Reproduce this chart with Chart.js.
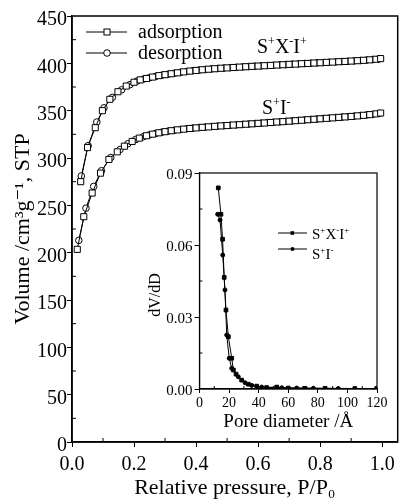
<!DOCTYPE html>
<html>
<head>
<meta charset="utf-8">
<script src="https://cdn.jsdelivr.net/npm/chart.js@4.4.0/dist/chart.umd.min.js"></script>
<style>
  html, body { margin:0; padding:0; background:#fff; }
  #wrap { position:relative; width:403px; height:504px; }
  #main { position:absolute; left:0; top:0; }
  #inset { position:absolute; left:140px; top:160px; }
</style>
</head>
<body>
<div id="wrap">
  <canvas id="main" width="403" height="504"></canvas>
  <canvas id="inset" width="255" height="280"></canvas>
</div>
<script>
// ---- isotherms, S+X-I+ (upper pair) ----
const pAdsA = [0.028, 0.05, 0.075, 0.098, 0.122, 0.148, 0.175, 0.2,
  0.22, 0.24, 0.26, 0.28, 0.30, 0.32, 0.34, 0.36, 0.38, 0.40, 0.42, 0.44, 0.46, 0.48, 0.50,
  0.52, 0.54, 0.56, 0.58, 0.60, 0.62, 0.64, 0.66, 0.68, 0.70, 0.72, 0.74, 0.76, 0.78, 0.80,
  0.82, 0.84, 0.86, 0.88, 0.90, 0.92, 0.94, 0.96, 0.98, 0.995];
const vAdsA = [275, 311, 332, 350, 362, 370, 376, 380,
  382.5, 384, 385.5, 387, 388, 389, 390, 391, 391.8, 392.5, 393.2, 393.8, 394.3, 394.8, 395.2,
  395.6, 396, 396.4, 396.8, 397.1, 397.5, 397.8, 398.2, 398.5, 398.9, 399.2, 399.6, 399.9, 400.3, 400.6,
  401, 401.3, 401.7, 402, 402.4, 402.8, 403.2, 403.7, 404.3, 405];
const pDesA = [0.03, 0.052, 0.08, 0.103, 0.13, 0.16, 0.187, 0.21,
  0.23, 0.25, 0.27, 0.29, 0.31, 0.33, 0.35, 0.37, 0.39, 0.41, 0.43, 0.45, 0.47, 0.49, 0.51,
  0.53, 0.55, 0.57, 0.59, 0.61, 0.63, 0.65, 0.67, 0.69, 0.71, 0.73, 0.75, 0.77, 0.79, 0.81,
  0.83, 0.85, 0.87, 0.89, 0.91, 0.93, 0.95, 0.97, 0.99];
const vDesA = [281, 313, 338, 353, 364, 372, 377.5, 381.3,
  383.3, 384.8, 386.2, 387.5, 388.5, 389.5, 390.5, 391.4, 392.2, 392.9, 393.5, 394.1, 394.6, 395, 395.4,
  395.8, 396.2, 396.6, 397, 397.3, 397.7, 398, 398.4, 398.7, 399.1, 399.4, 399.8, 400.1, 400.5, 400.8,
  401.2, 401.5, 401.9, 402.2, 402.6, 403, 403.5, 404, 404.7];

// ---- isotherms, S+I- (lower pair) ----
const pAdsB = [0.017, 0.038, 0.065, 0.092, 0.119, 0.146, 0.169, 0.194, 0.217,
  0.24, 0.26, 0.28, 0.30, 0.32, 0.34, 0.36, 0.38, 0.40, 0.42, 0.44, 0.46, 0.48, 0.50,
  0.52, 0.54, 0.56, 0.58, 0.60, 0.62, 0.64, 0.66, 0.68, 0.70, 0.72, 0.74, 0.76, 0.78, 0.80,
  0.82, 0.84, 0.86, 0.88, 0.90, 0.92, 0.94, 0.96, 0.98, 0.995];
const vAdsB = [203.5, 238, 263, 284, 298.5, 306.5, 312.5, 317.5, 321,
  323.5, 325.2, 326.6, 327.8, 328.8, 329.7, 330.5, 331.2, 331.8, 332.4, 332.9, 333.4, 333.9, 334.3,
  334.8, 335.2, 335.7, 336.1, 336.6, 337, 337.5, 338, 338.4, 338.9, 339.4, 339.9, 340.4, 340.9, 341.4,
  341.9, 342.4, 342.9, 343.4, 343.9, 344.5, 345.1, 345.8, 346.6, 347.5];
const pDesB = [0.022, 0.045, 0.07, 0.095, 0.125, 0.155, 0.18, 0.205, 0.23,
  0.25, 0.27, 0.29, 0.31, 0.33, 0.35, 0.37, 0.39, 0.41, 0.43, 0.45, 0.47, 0.49, 0.51,
  0.53, 0.55, 0.57, 0.59, 0.61, 0.63, 0.65, 0.67, 0.69, 0.71, 0.73, 0.75, 0.77, 0.79, 0.81,
  0.83, 0.85, 0.87, 0.89, 0.91, 0.93, 0.95, 0.97, 0.99];
const vDesB = [213, 247, 270, 286.5, 300.5, 309, 315, 319.5, 322.5,
  324.5, 326, 327.3, 328.4, 329.3, 330.1, 330.9, 331.6, 332.2, 332.7, 333.2, 333.7, 334.1, 334.6,
  335, 335.5, 335.9, 336.4, 336.8, 337.3, 337.8, 338.2, 338.7, 339.2, 339.7, 340.2, 340.7, 341.2, 341.7,
  342.2, 342.7, 343.2, 343.7, 344.2, 344.8, 345.5, 346.2, 347.1];

// ---- inset: pore size distribution ----
const poreA = [12.7, 14.5, 15.6, 16.7, 17.9, 19.5, 21.8, 22.9, 24.7, 28.5, 33, 38.7, 45.4, 52.2, 60, 71.3, 84.9, 105, 119.8];
const dvA   = [0.0838, 0.0728, 0.0624, 0.0465, 0.0329, 0.0218, 0.0128, 0.0079, 0.0062, 0.0037, 0.0020, 0.0012, 0.0006, 0.0008, 0.0004, 0.0003, 0.0003, 0.0002, 0.0002];
const poreB = [12.3, 13.9, 15.7, 17.2, 18.4, 20.1, 21.8, 26.2, 30.8, 35.3, 42, 55.6, 65.7, 77, 93.8, 119.8];
const dvB   = [0.0728, 0.0704, 0.0558, 0.0413, 0.0225, 0.0128, 0.0086, 0.0051, 0.0026, 0.0015, 0.0008, 0.0005, 0.0004, 0.0003, 0.0002, 0.0002];

// ---- ticks ----
const xTicks = [0, 0.2, 0.4, 0.6, 0.8, 1.0];
const xMinor = [0.1, 0.3, 0.5, 0.7, 0.9];
const yTicks = [0, 50, 100, 150, 200, 250, 300, 350, 400, 450];
const yMinor = [25, 75, 125, 175, 225, 275, 325, 375, 425];
const poreTicks = [0, 20, 40, 60, 80, 100, 120];
const poreMinor = [10, 30, 50, 70, 90, 110];
const dvTicks = [0, 0.03, 0.06, 0.09];
const dvMinor = [0.015, 0.045, 0.075];

const SERIF = '"Liberation Serif", "DejaVu Serif", serif';
Chart.defaults.font.family = SERIF;
Chart.defaults.color = '#000';

const pts = (xs, ys) => xs.map((x, i) => ({ x, y: ys[i] }));

function richText(ctx, parts, x, y, size) {
  ctx.save();
  ctx.fillStyle = '#000';
  ctx.textBaseline = 'alphabetic';
  ctx.textAlign = 'left';
  let cx = x;
  parts.forEach(([t, sup]) => {
    ctx.font = (sup ? Math.round(size * 0.62) : size) + 'px ' + SERIF;
    ctx.fillText(t, cx, sup ? y - size * 0.4 : y);
    cx += ctx.measureText(t).width;
  });
  ctx.restore();
}

function framePlugin(lw, xm, ym, len) {
  return {
    id: 'frame',
    afterDraw(chart) {
      const { ctx, chartArea: a, scales } = chart;
      ctx.save();
      ctx.strokeStyle = '#000';
      ctx.lineWidth = lw;
      ctx.strokeRect(a.left, a.top, a.right - a.left, a.bottom - a.top);
      ctx.lineWidth = 1;
      ctx.beginPath();
      xm.forEach(v => {
        const px = scales.x.getPixelForValue(v);
        ctx.moveTo(px, a.bottom); ctx.lineTo(px, a.bottom - len);
      });
      ym.forEach(v => {
        const py = scales.y.getPixelForValue(v);
        ctx.moveTo(a.left, py); ctx.lineTo(a.left + len, py);
      });
      ctx.stroke();
      ctx.restore();
    }
  };
}

const mainLabels = {
  id: 'mainLabels',
  afterDraw(chart) {
    const ctx = chart.ctx;
    ctx.save();
    ctx.strokeStyle = '#000';
    ctx.lineWidth = 1;
    ctx.beginPath();
    ctx.moveTo(86, 32); ctx.lineTo(127, 32);
    ctx.moveTo(86, 53); ctx.lineTo(127, 53);
    ctx.stroke();
    ctx.fillStyle = '#fff';
    ctx.fillRect(104, 29, 6, 6);
    ctx.strokeRect(104, 29, 6, 6);
    ctx.beginPath();
    ctx.arc(107, 53, 3.3, 0, Math.PI * 2);
    ctx.fill(); ctx.stroke();
    ctx.fillStyle = '#000';
    ctx.font = '20px ' + SERIF;
    ctx.fillText('adsorption', 138, 38);
    ctx.fillText('desorption', 138, 59);
    ctx.restore();
    richText(ctx, [['S', 0], ['+', 1], ['X', 0], ['-', 1], ['I', 0], ['+', 1]], 257, 53, 20);
    richText(ctx, [['S', 0], ['+', 1], ['I', 0], ['-', 1]], 262, 114, 20);
  }
};

const insetLabels = {
  id: 'insetLabels',
  beforeDraw(chart) {
    const { ctx, chartArea: a } = chart;
    ctx.save();
    ctx.fillStyle = '#fff';
    ctx.fillRect(a.left, a.top, a.right - a.left, a.bottom - a.top);
    ctx.restore();
  },
  afterDraw(chart) {
    const ctx = chart.ctx;
    // canvas offset: page (140,160)
    ctx.save();
    ctx.strokeStyle = '#000';
    ctx.fillStyle = '#000';
    ctx.lineWidth = 1;
    ctx.beginPath();
    ctx.moveTo(138, 73); ctx.lineTo(167, 73);
    ctx.moveTo(138, 89); ctx.lineTo(167, 89);
    ctx.stroke();
    ctx.fillRect(150.5, 71.2, 3.6, 3.6);
    ctx.beginPath();
    ctx.arc(152.5, 89, 2, 0, Math.PI * 2);
    ctx.fill();
    ctx.restore();
    richText(ctx, [['S', 0], ['+', 1], ['X', 0], ['-', 1], ['I', 0], ['+', 1]], 172, 79, 15);
    richText(ctx, [['S', 0], ['+', 1], ['I', 0], ['-', 1]], 172, 99, 15);
  }
};

const lineStyle = {
  showLine: true, borderColor: '#000', borderWidth: 1, tension: 0, fill: false,
  pointBorderColor: '#000', pointBorderWidth: 1, pointHoverRadius: 0
};

new Chart(document.getElementById('main'), {
  type: 'line',
  data: {
    datasets: [
      { ...lineStyle, data: pts(pAdsA, vAdsA), pointStyle: 'rect', pointRadius: 4.3, pointBackgroundColor: '#fff' },
      { ...lineStyle, data: pts(pDesA, vDesA), pointStyle: 'circle', pointRadius: 3.3, pointBackgroundColor: '#fff' },
      { ...lineStyle, data: pts(pAdsB, vAdsB), pointStyle: 'rect', pointRadius: 4.3, pointBackgroundColor: '#fff' },
      { ...lineStyle, data: pts(pDesB, vDesB), pointStyle: 'circle', pointRadius: 3.3, pointBackgroundColor: '#fff' }
    ]
  },
  options: {
    responsive: false, animation: false, devicePixelRatio: 1,
    layout: { padding: { left: 0, right: 3, top: 16, bottom: 0 } },
    plugins: { legend: { display: false }, tooltip: { enabled: false } },
    scales: {
      x: {
        type: 'linear', min: 0, max: 1.05,
        afterFit(s) { s.height = 62; },
        afterBuildTicks(s) { s.ticks = xTicks.map(v => ({ value: v })); },
        ticks: { callback: v => v.toFixed(1), font: { size: 20 }, color: '#000', padding: 6, maxRotation: 0, autoSkip: false },
        grid: { drawOnChartArea: false, tickLength: 5, color: '#000' },
        border: { color: '#000', width: 1.5 },
        title: { display: true, text: 'Relative pressure, P/P\u2080', font: { size: 22 }, color: '#000', padding: { top: 0, bottom: 3 } }
      },
      y: {
        type: 'linear', min: 0, max: 450,
        afterFit(s) { s.width = 72; },
        afterBuildTicks(s) { s.ticks = yTicks.map(v => ({ value: v })); },
        ticks: { callback: v => String(v), font: { size: 20 }, color: '#000', padding: 0, labelOffset: 4, autoSkip: false },
        grid: { drawOnChartArea: false, tickLength: 5, color: '#000' },
        border: { color: '#000', width: 1.5 },
        title: { display: true, text: 'Volume /cm\u00b3g\u207b\u00b9, STP', font: { size: 22 }, color: '#000', padding: { top: 10, bottom: 0 } }
      }
    }
  },
  plugins: [framePlugin(1.5, xMinor, yMinor, 4), mainLabels]
});

new Chart(document.getElementById('inset'), {
  type: 'line',
  data: {
    datasets: [
      { ...lineStyle, data: pts(poreA, dvA), pointStyle: 'rect', pointRadius: 2.6, pointBackgroundColor: '#000' },
      { ...lineStyle, data: pts(poreB, dvB), pointStyle: 'circle', pointRadius: 2, pointBackgroundColor: '#000' }
    ]
  },
  options: {
    responsive: false, animation: false, devicePixelRatio: 1,
    layout: { padding: { left: 0, right: 18, top: 13, bottom: 0 } },
    plugins: { legend: { display: false }, tooltip: { enabled: false } },
    scales: {
      x: {
        type: 'linear', min: 0, max: 120,
        afterFit(s) { s.height = 51; },
        afterBuildTicks(s) { s.ticks = poreTicks.map(v => ({ value: v })); },
        ticks: { callback: v => String(v), font: { size: 14 }, color: '#000', padding: 2, maxRotation: 0, autoSkip: false },
        grid: { drawOnChartArea: false, tickLength: 4, color: '#000' },
        border: { color: '#000', width: 1.2 },
        title: { display: true, text: 'Pore diameter /\u00c5', font: { size: 19 }, color: '#000', padding: { top: 0, bottom: 7 } }
      },
      y: {
        type: 'linear', min: 0, max: 0.09,
        afterFit(s) { s.width = 59.5; },
        afterBuildTicks(s) { s.ticks = dvTicks.map(v => ({ value: v })); },
        ticks: { callback: v => v.toFixed(2), font: { size: 15 }, color: '#000', padding: 2, labelOffset: 2, autoSkip: false },
        grid: { drawOnChartArea: false, tickLength: 5, color: '#000' },
        border: { color: '#000', width: 1.2 },
        title: { display: true, text: 'dV/dD' + '\u00a0'.repeat(7), font: { size: 16 }, color: '#000', padding: { top: 6, bottom: 0 } }
      }
    }
  },
  plugins: [framePlugin(1.2, poreMinor, dvMinor, 3), insetLabels]
});
</script>
</body>
</html>
